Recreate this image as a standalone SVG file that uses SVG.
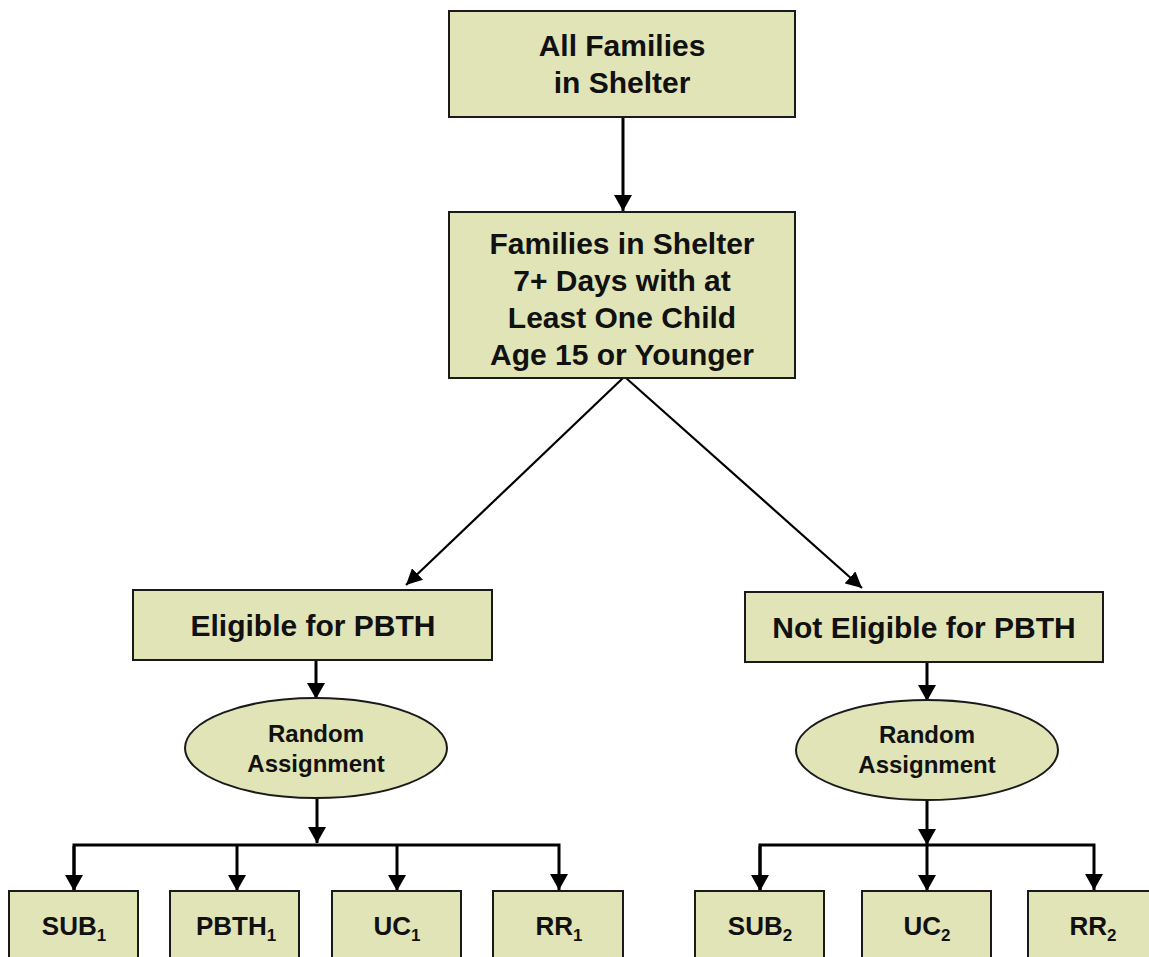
<svg xmlns="http://www.w3.org/2000/svg" width="1149" height="957" viewBox="0 0 1149 957">
<defs>
<style>
.box{fill:#e0e4b6;stroke:#1a1a1a;stroke-width:2}
.t{font-family:"Liberation Sans",Arial,sans-serif;font-weight:bold;fill:#111;text-anchor:middle}
.big{font-size:30px}
.mid{font-size:30px}
.sm{font-size:24px}
.bt{font-size:26px}
.sub{font-size:17px}
.c{stroke:#000;stroke-width:3;fill:none}
.d{stroke:#000;stroke-width:2.2;fill:none}
</style>
<marker id="ah" markerWidth="16" markerHeight="18" viewBox="0 0 16 18" refX="16" refY="9" orient="auto" markerUnits="userSpaceOnUse">
<path d="M0,0 L16,9 L0,18 z" fill="#000"/>
</marker>
<marker id="ahd" markerWidth="16" markerHeight="16" viewBox="0 0 16 16" refX="16" refY="8" orient="auto" markerUnits="userSpaceOnUse">
<path d="M0,0 L16,8 L0,16 z" fill="#000"/>
</marker>
</defs>
<rect width="1149" height="957" fill="#fff"/>
<g id="connectors">
<line class="c" x1="623" y1="118" x2="623" y2="211" marker-end="url(#ah)"/>
<line class="d" x1="623" y1="378" x2="406" y2="585" marker-end="url(#ahd)"/>
<line class="d" x1="626" y1="378" x2="862" y2="588" marker-end="url(#ahd)"/>
<line class="c" x1="316" y1="661" x2="316" y2="699" marker-end="url(#ah)"/>
<line class="c" x1="927" y1="662" x2="927" y2="701" marker-end="url(#ah)"/>
<line class="c" x1="317" y1="798" x2="317" y2="843" marker-end="url(#ah)"/>
<polyline class="c" points="74,890 74,845 559,845 559,890" marker-end="url(#ah)"/>
<line class="c" x1="74" y1="846" x2="74" y2="891" marker-end="url(#ah)"/>
<line class="c" x1="237" y1="845" x2="237" y2="891" marker-end="url(#ah)"/>
<line class="c" x1="397" y1="845" x2="397" y2="891" marker-end="url(#ah)"/>
<line class="c" x1="927" y1="800" x2="927" y2="845" marker-end="url(#ah)"/>
<polyline class="c" points="760,890 760,845 1094,845 1094,890" marker-end="url(#ah)"/>
<line class="c" x1="760" y1="846" x2="760" y2="891" marker-end="url(#ah)"/>
<line class="c" x1="927" y1="845" x2="927" y2="891" marker-end="url(#ah)"/>
</g>
<g id="all-families">
<rect class="box" x="449" y="11" width="346" height="106"/>
<text class="t big" x="622" y="56">All Families</text>
<text class="t big" x="622" y="93">in Shelter</text>
</g>
<g id="families-7days">
<rect class="box" x="449" y="212" width="346" height="166"/>
<text class="t big" x="622" y="254">Families in Shelter</text>
<text class="t big" x="622" y="291">7+ Days with at</text>
<text class="t big" x="622" y="328">Least One Child</text>
<text class="t big" x="622" y="365">Age 15 or Younger</text>
</g>
<g id="eligible">
<rect class="box" x="133" y="590" width="359" height="70"/>
<text class="t mid" x="313" y="636">Eligible for PBTH</text>
</g>
<g id="not-eligible">
<rect class="box" x="745" y="592" width="358" height="70"/>
<text class="t mid" x="924" y="638">Not Eligible for PBTH</text>
</g>
<g id="random-left">
<ellipse class="box" cx="316" cy="748" rx="131" ry="50"/>
<text class="t sm" x="316" y="742">Random</text>
<text class="t sm" x="316" y="772">Assignment</text>
</g>
<g id="random-right">
<ellipse class="box" cx="927" cy="750" rx="131" ry="50"/>
<text class="t sm" x="927" y="743">Random</text>
<text class="t sm" x="927" y="773">Assignment</text>
</g>
<g id="sub1">
<rect class="box" x="9" y="891" width="129" height="80"/>
<text class="t bt" x="74" y="935">SUB<tspan class="sub" dy="6">1</tspan></text>
</g>
<g id="pbth1">
<rect class="box" x="170" y="891" width="129" height="80"/>
<text class="t bt" x="236" y="935">PBTH<tspan class="sub" dy="6">1</tspan></text>
</g>
<g id="uc1">
<rect class="box" x="332" y="891" width="129" height="80"/>
<text class="t bt" x="397" y="935">UC<tspan class="sub" dy="6">1</tspan></text>
</g>
<g id="rr1">
<rect class="box" x="493" y="891" width="130" height="80"/>
<text class="t bt" x="559" y="935">RR<tspan class="sub" dy="6">1</tspan></text>
</g>
<g id="sub2">
<rect class="box" x="695" y="891" width="129" height="80"/>
<text class="t bt" x="760" y="935">SUB<tspan class="sub" dy="6">2</tspan></text>
</g>
<g id="uc2">
<rect class="box" x="862" y="891" width="129" height="80"/>
<text class="t bt" x="927" y="935">UC<tspan class="sub" dy="6">2</tspan></text>
</g>
<g id="rr2">
<rect class="box" x="1028" y="891" width="130" height="80"/>
<text class="t bt" x="1093" y="935">RR<tspan class="sub" dy="6">2</tspan></text>
</g>
</svg>
